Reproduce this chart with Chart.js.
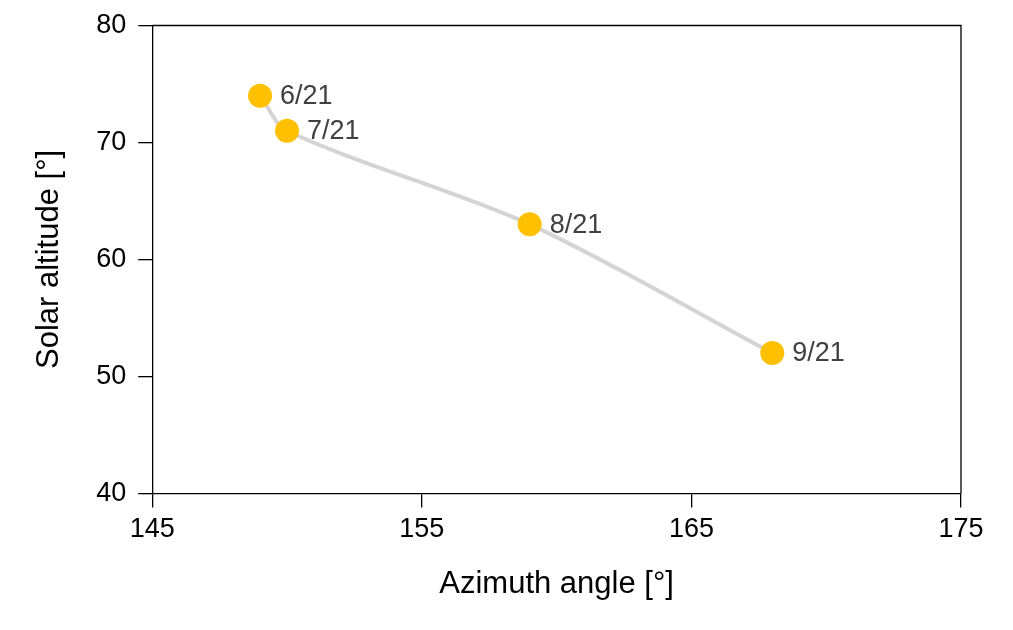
<!DOCTYPE html>
<html>
<head>
<meta charset="utf-8">
<script src="https://cdn.jsdelivr.net/npm/chart.js@4/dist/chart.umd.min.js"></script>
<style>
html,body{margin:0;padding:0;background:#fff;}
#wrap{width:1013px;height:630px;position:relative;}
</style>
</head>
<body>
<div id="wrap"><canvas id="c" width="1013" height="630"></canvas></div>
<script>
const dateLabels = ["6/21", "7/21", "8/21", "9/21"];
const azimuth = [149, 150, 159, 168];
const altitude = [74, 71, 63, 52];
const xTicks = [145, 155, 165, 175];
const yTicks = [40, 50, 60, 70, 80];

const points = azimuth.map((x, i) => ({x: x, y: altitude[i]}));

const FONT = "'Liberation Sans', Arial, sans-serif";

const framePlugin = {
  id: 'frame',
  afterDatasetsDraw(chart) {
    const {ctx, chartArea: a} = chart;
    ctx.save();
    ctx.strokeStyle = '#000';
    ctx.lineWidth = 1.3;
    ctx.beginPath();
    ctx.moveTo(a.left, a.top);
    ctx.lineTo(a.right, a.top);
    ctx.lineTo(a.right, a.bottom);
    ctx.stroke();
    ctx.restore();
  }
};

const labelPlugin = {
  id: 'ptLabels',
  afterDatasetsDraw(chart) {
    const {ctx} = chart;
    const meta = chart.getDatasetMeta(0);
    ctx.save();
    ctx.font = '27px ' + FONT;
    ctx.fillStyle = '#404040';
    ctx.textAlign = 'left';
    ctx.textBaseline = 'middle';
    meta.data.forEach((el, i) => {
      ctx.fillText(dateLabels[i], el.x + 20, el.y + 1);
    });
    ctx.restore();
  }
};

new Chart(document.getElementById('c'), {
  type: 'scatter',
  data: {
    datasets: [{
      data: points,
      showLine: true,
      borderColor: '#d4d4d4',
      borderWidth: 4,
      tension: 0.3,
      pointRadius: 12,
      pointHoverRadius: 12,
      pointBackgroundColor: '#FFC000',
      pointBorderColor: '#FFC000',
      pointBorderWidth: 0
    }]
  },
  options: {
    responsive: false,
    animation: false,
    events: [],
    layout: {padding: {top: 9, right: 52, left: 31, bottom: 27}},
    plugins: {legend: {display: false}, tooltip: {enabled: false}},
    scales: {
      x: {
        type: 'linear',
        min: 145, max: 175,
        afterBuildTicks: s => { s.ticks = xTicks.map(v => ({value: v})); },
        grid: {drawOnChartArea: false, tickLength: 14, color: '#000', lineWidth: 1.3},
        border: {color: '#000', width: 1.3},
        ticks: {color: '#000', font: {family: FONT, size: 27}, padding: 6, maxRotation: 0},
        title: {display: true, text: 'Azimuth angle [°]', color: '#000', font: {family: FONT, size: 31}, padding: {top: 14, bottom: 0}}
      },
      y: {
        type: 'linear',
        min: 40, max: 80,
        afterBuildTicks: s => { s.ticks = yTicks.map(v => ({value: v})); },
        grid: {drawOnChartArea: false, tickLength: 14, color: '#000', lineWidth: 1.3},
        border: {color: '#000', width: 1.3},
        ticks: {color: '#000', font: {family: FONT, size: 27, lineHeight: 1}, padding: 12},
        title: {display: true, text: 'Solar altitude [°]', color: '#000', font: {family: FONT, size: 31}, padding: {top: 0, bottom: 16}}
      }
    }
  },
  plugins: [framePlugin, labelPlugin]
});
</script>
</body>
</html>
